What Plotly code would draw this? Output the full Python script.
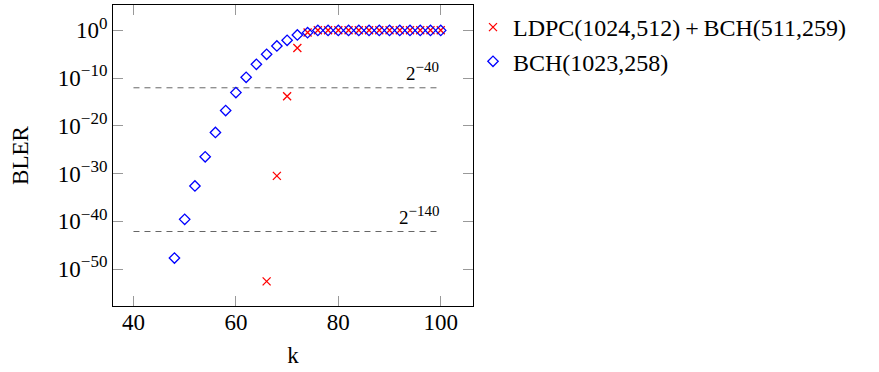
import plotly.graph_objects as go

# Data
k_bch = list(range(48, 101, 2))
log_bch = [-47.7, -39.6, -32.6, -26.5, -21.4, -16.8, -13.05, -9.84, -7.12, -5.03,
           -3.28, -2.09, -0.98, -0.49] + [-0.02] * 13
k_ldpc = list(range(66, 101, 2))
log_ldpc = [-52.6, -30.5, -13.8, -3.7, -0.45] + [0.0] * 13
bler_bch = [10 ** v for v in log_bch]
bler_ldpc = [10 ** v for v in log_ldpc]

ref_k = [40, 100]
ref_exps = [-40, -140]

ytick_exps = [0, -10, -20, -30, -40, -50]
xtick_vals = [40, 60, 80, 100]

FONT = "Liberation Serif"


def sup(base, exp, size):
    return '%s<sup><span style="font-size:%dpx">%s</span></sup>' % (
        base, size, str(exp).replace("-", "−"))


fig = go.Figure()

for e in ref_exps:
    fig.add_trace(go.Scatter(x=ref_k, y=[2.0 ** e] * 2, mode="lines",
                             line=dict(color="#666666", width=1, dash="6px,5px"),
                             showlegend=False, hoverinfo="skip"))

fig.add_trace(go.Scatter(x=k_ldpc, y=bler_ldpc, mode="markers",
                         name="LDPC(1024,512)\u2009+\u2009BCH(511,259)",
                         marker=dict(symbol="x-thin-open", size=8, color="red",
                                     line=dict(color="red", width=1.3))))
fig.add_trace(go.Scatter(x=k_bch, y=bler_bch, mode="markers",
                         name="BCH(1023,258)",
                         marker=dict(symbol="diamond-open", size=8, color="blue",
                                     line=dict(color="blue", width=1.3))))

for e in ref_exps:
    fig.add_annotation(x=100, y=e * 0.30103, xref="x", yref="y",
                       text=sup("2", e, 15),
                       showarrow=False, xanchor="right", yanchor="bottom",
                       yshift=2, font=dict(family=FONT, size=19, color="black"))

fig.update_layout(
    width=879, height=372,
    margin=dict(l=113, r=404, t=5, b=66),
    plot_bgcolor="white", paper_bgcolor="white",
    font=dict(family=FONT, size=23, color="black"),
    showlegend=True,
    legend=dict(x=(475 - 2) / 879.0, y=1.0, xanchor="left", yanchor="top",
                xref="container", yref="paper",
                bgcolor="rgba(0,0,0,0)", itemwidth=30,
                font=dict(family=FONT, size=24, color="black")),
    xaxis=dict(range=[36, 106.3], tickvals=xtick_vals, automargin=False,
               ticks="inside", ticklen=10, tickcolor="#999999", tickwidth=1,
               showline=True, linecolor="black", linewidth=1, mirror="ticks",
               showgrid=False, zeroline=False, ticklabelstandoff=-5,
               tickfont=dict(family=FONT, size=23),
               title=dict(text="k", font=dict(family=FONT, size=23), standoff=13)),
    yaxis=dict(type="log", range=[-57.75, 5.3], automargin=False,
               tickvals=[10.0 ** e for e in ytick_exps],
               ticktext=[sup("10", e, 17) for e in ytick_exps],
               ticks="inside", ticklen=10, tickcolor="#999999", tickwidth=1,
               showline=True, linecolor="black", linewidth=1, mirror="ticks",
               showgrid=False, zeroline=False,
               tickfont=dict(family=FONT, size=23),
               title=dict(text="BLER", font=dict(family=FONT, size=23), standoff=22)),
)

fig.write_html("out.html", config={"displayModeBar": False},
               post_script="document.body.style.margin='0';document.body.style.overflow='hidden';")
